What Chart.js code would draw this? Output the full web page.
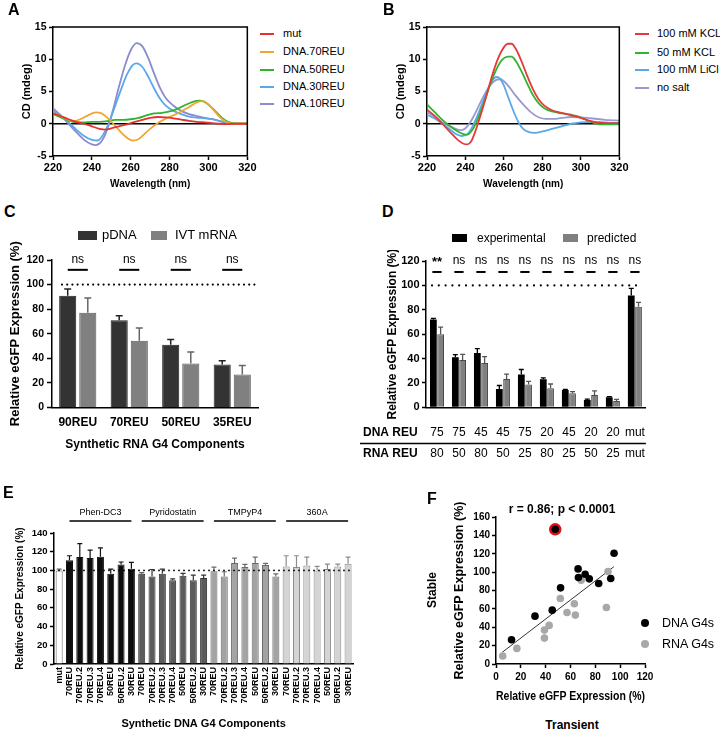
<!DOCTYPE html>
<html><head><meta charset="utf-8">
<script src="https://cdn.jsdelivr.net/npm/chart.js@4.4.1/dist/chart.umd.min.js"></script>
<style>
html,body{margin:0;padding:0;background:#fff;}
body{width:720px;height:731px;position:relative;overflow:hidden;font-family:"Liberation Sans",Arial,Helvetica,sans-serif;color:#000;}
canvas{position:absolute;}
.t{position:absolute;white-space:nowrap;}
.sw{position:absolute;}
</style></head><body>
<script>
// ================= DATA =================
// Panel A – CD spectra [wavelength nm, CD mdeg]
const aMut = [[220,1.6],[224,1.2],[228,0.7],[232,0.3],[236,0],[240,-0.4],[244,-0.8],[247,-0.9],[250,-0.7],[254,-0.4],[258,-0.1],[262,0.3],[266,0.6],[270,0.9],[274,1.05],[278,1.0],[282,0.85],[286,0.65],[290,0.45],[294,0.3],[298,0.2],[302,0.1],[306,0],[310,-0.05],[314,0],[320,0]];
const aDna70 = [[220,1.7],[224,1.2],[228,0.6],[231,0.4],[234,0.7],[238,1.3],[242,1.75],[245,1.6],[248,0.9],[251,0],[254,-1.0],[257,-1.9],[261,-2.6],[264,-2.4],[267,-1.6],[270,-0.8],[274,0.1],[278,0.8],[282,1.3],[286,1.9],[290,2.6],[294,3.3],[297,3.5],[300,3.0],[303,2.0],[306,1.0],[309,0.3],[312,0],[316,0],[320,0]];
const aDna50 = [[220,1.5],[224,1.0],[228,0.5],[232,0.2],[236,0.2],[240,0.3],[244,0.3],[248,0.4],[252,0.6],[256,0.6],[260,0.7],[264,0.9],[268,1.3],[272,1.6],[276,1.7],[280,1.9],[284,2.3],[288,2.9],[292,3.4],[295,3.6],[298,3.4],[301,2.7],[304,1.8],[307,0.9],[310,0.3],[313,0.05],[316,0],[320,0]];
const aDna30 = [[220,2.0],[224,1.2],[228,0.2],[232,-0.9],[236,-1.9],[240,-2.5],[243,-2.6],[246,-1.6],[249,0.3],[252,2.8],[255,5.3],[258,7.6],[261,9.1],[263,9.35],[266,8.8],[269,7.3],[272,5.5],[275,3.9],[278,2.8],[282,2.0],[286,1.5],[290,1.1],[294,0.95],[298,0.85],[302,0.7],[306,0.4],[310,0.1],[314,0],[320,0]];
const aDna10 = [[220,2.4],[224,1.3],[228,0.0],[232,-1.3],[236,-2.5],[240,-3.2],[242,-3.3],[245,-2.7],[248,-0.8],[251,2.3],[254,5.8],[257,9.0],[260,11.4],[263,12.5],[266,12.0],[269,10.2],[272,7.8],[275,5.6],[278,4.0],[282,2.8],[286,2.0],[290,1.5],[294,1.2],[298,0.9],[302,0.7],[306,0.4],[310,0.1],[314,0],[320,0]];
const aNames = ['mut','DNA.70REU','DNA.50REU','DNA.30REU','DNA.10REU'];

// Panel B – CD spectra under salt conditions
const bKcl100 = [[220,2.2],[224,1.2],[228,0.0],[232,-1.3],[236,-2.5],[239,-3.1],[241,-3.2],[243,-2.7],[245,-1.3],[247,0.5],[250,3.4],[253,6.6],[256,9.4],[259,11.4],[262,12.4],[264,12.4],[266,11.7],[269,9.8],[272,7.5],[275,5.4],[278,3.8],[281,2.8],[285,2.1],[290,1.7],[295,1.3],[300,0.9],[304,0.5],[308,0.2],[314,0.1],[320,0.1]];
const bKcl50 = [[220,3.0],[224,1.8],[228,0.6],[232,-0.4],[236,-1.2],[239,-1.6],[241,-1.7],[243,-1.2],[245,-0.2],[247,1.2],[250,3.6],[253,6.2],[256,8.4],[259,9.9],[262,10.4],[264,10.4],[266,9.8],[269,8.2],[272,6.3],[275,4.5],[278,3.2],[281,2.4],[285,1.9],[290,1.6],[295,1.4],[298,1.2],[302,0.7],[306,0.2],[310,-0.1],[315,-0.1],[320,-0.1]];
const bLicl100 = [[220,1.4],[224,0.8],[228,0.0],[232,-0.9],[235,-1.6],[238,-1.9],[241,-1.6],[243,-0.8],[245,0.4],[248,2.6],[251,4.9],[254,6.7],[256,7.25],[258,7.0],[260,5.9],[262,4.3],[264,2.7],[266,1.2],[268,0.0],[270,-0.8],[273,-1.3],[276,-1.4],[280,-1.2],[285,-0.8],[290,-0.4],[295,0.0],[300,0.2],[305,0.3],[310,0.25],[315,0.15],[320,0.1]];
const bNoSalt = [[220,1.8],[224,1.1],[228,0.2],[232,-0.4],[236,-0.9],[238,-1.0],[240,-0.7],[242,0.0],[244,1.0],[247,2.8],[250,4.6],[253,6.0],[256,6.8],[258,6.9],[260,6.6],[263,5.6],[266,4.4],[270,3.0],[274,1.8],[278,1.0],[282,0.75],[286,0.75],[290,0.9],[295,1.05],[300,1.0],[305,0.85],[310,0.7],[315,0.55],[320,0.5]];
const bNames = ['100 mM KCL','50 mM KCL','100 mM LiCl','no salt'];

// Panel C
const cCategories = ['90REU','70REU','50REU','35REU'];
const cPdna = [91, 71, 51, 35];
const cPdnaErr = [5.5, 3.7, 4.3, 3];
const cIvt = [77, 54.4, 35.8, 26.9];
const cIvtErr = [12.1, 10.2, 9.4, 7.3];
const cSig = ['ns','ns','ns','ns'];
const cSeries = ['pDNA','IVT mRNA'];

// Panel D
const dDnaReu = ['75','75','45','45','75','20','45','20','20','mut'];
const dRnaReu = ['80','50','80','50','25','80','25','50','25','mut'];
const dExp = [72, 41, 44.5, 15, 27, 23, 14.2, 6, 8.2, 91.8];
const dExpErr = [1, 2.2, 3.7, 2.9, 4, 1.2, 0.5, 0.7, 0.6, 5.8];
const dPred = [60, 38.8, 36.3, 23.2, 18.8, 15.6, 11.5, 10.1, 5.2, 82.5];
const dPredErr = [5.8, 4.6, 5.3, 4, 2.5, 3.5, 1.4, 3.3, 1.3, 3.6];
const dSig = ['**','ns','ns','ns','ns','ns','ns','ns','ns','ns'];
const dSeries = ['experimental','predicted'];

// Panel E
const eLigands = ['Phen-DC3','Pyridostatin','TMPyP4','360A'];
const eConstructs = ['70REU','70REU.2','70REU.3','70REU.4','50REU','50REU.2','30REU'];
const eMut = [100];
const eMutErr = [1.5];
const ePhen = [111, 114.3, 113.2, 114.6, 96.4, 106.4, 101.8];
const ePhenErr = [4.7, 14.3, 8.6, 9.4, 5, 2.6, 6.8];
const ePyr = [96.4, 93.6, 96.4, 89.6, 94.3, 89.6, 91.8];
const ePyrErr = [1.1, 7.4, 5, 1.4, 2.5, 5.4, 3.2];
const eTmp = [99, 93.6, 107.9, 103.6, 107.9, 105.7, 93.6];
const eTmpErr = [4.6, 5, 5.3, 2.8, 6.4, 1.8, 2.8];
const e360 = [104.3, 103.6, 105.4, 100, 101.4, 104.3, 107.1];
const e360Err = [11.4, 12.1, 8.9, 4.3, 5.4, 2.5, 7.2];

// Panel F
const fDnaX = [12.5, 31.4, 45.3, 52.0, 66.1, 66.4, 71.8, 75.1, 82.7, 92.4, 95.1];
const fDnaY = [26.4, 52.1, 58.6, 82.9, 103.5, 94.1, 97.7, 92.7, 87.6, 93.0, 120.5];
const fRnaX = [5.4, 16.8, 39.0, 39.0, 42.8, 51.8, 57.2, 63.1, 63.9, 68.6, 88.9, 90.2];
const fRnaY = [8.7, 17.0, 28.2, 36.9, 42.0, 71.3, 56.1, 65.5, 53.2, 91.2, 61.5, 100.6];
const fOutlier = [47.7, 146.6];
const fFit = [[5, 12.7], [95, 106]];
const fStats = 'r = 0.86; p < 0.0001';
const fSeries = ['DNA G4s','RNA G4s'];

// ================= RENDER =================
const FONT = "'Liberation Sans', Arial, Helvetica, sans-serif";
Chart.defaults.font.family = FONT;
Chart.defaults.color = '#000';
Chart.defaults.animation = false;

function makeChart(box, plot, padL, config) {
  const cv = document.createElement('canvas');
  cv.width = box.w; cv.height = box.h;
  cv.style.left = box.l + 'px'; cv.style.top = box.t + 'px';
  cv.style.width = box.w + 'px'; cv.style.height = box.h + 'px';
  document.body.appendChild(cv);
  const o = config.options;
  o.responsive = false; o.maintainAspectRatio = false; o.animation = false; o.devicePixelRatio = 1;
  o.layout = {padding: {left: padL, top: plot.t - box.t, right: box.l + box.w - plot.r, bottom: 0}};
  const yW = plot.l - box.l - padL, xH = box.t + box.h - plot.b;
  o.scales.x.afterFit = s => { s.height = xH; };
  o.scales.y.afterFit = s => { s.width = yW; };
  o.plugins = Object.assign({legend: {display: false}, tooltip: {enabled: false}}, o.plugins || {});
  return new Chart(cv.getContext('2d'), config);
}
function valAxis(min, max, step, tickSize, pad, title, titleSize, tl) {
  return {
    type: 'linear', min, max,
    ticks: {stepSize: step, font: {size: tickSize, weight: 'bold'}, padding: pad, color: '#000'},
    grid: {display: true, drawOnChartArea: false, drawTicks: true, tickLength: tl == null ? 4 : tl, tickWidth: 1.5, tickColor: '#000', color: '#000'},
    border: {display: true, color: '#000', width: 1.5},
    title: {display: !!title, text: title || '', font: {size: titleSize, weight: 'bold'}, padding: 0, color: '#000'}
  };
}
function catAxis(tickSize, pad, title, titleSize, extra) {
  const ax = {
    type: 'category',
    ticks: {font: {size: tickSize, weight: 'bold'}, padding: pad, color: '#000', autoSkip: false, maxRotation: 0, minRotation: 0},
    grid: {display: false, drawTicks: false, tickLength: 0},
    border: {display: true, color: '#000', width: 1.5},
    title: {display: !!title, text: title || '', font: {size: titleSize, weight: 'bold'}, padding: 0, color: '#000'}
  };
  return Object.assign(ax, extra || {});
}
const errPlugin = {
  id: 'errbars',
  afterDatasetsDraw(chart) {
    const ctx = chart.ctx, ys = chart.scales.y;
    chart.data.datasets.forEach((ds, i) => {
      if (!ds.errs) return;
      const meta = chart.getDatasetMeta(i);
      meta.data.forEach((bar, j) => {
        const v = ds.data[j], e = ds.errs[j];
        const top = ys.getPixelForValue(v + e);
        const col = Array.isArray(ds.errColor) ? ds.errColor[j] : ds.errColor;
        ctx.save();
        ctx.strokeStyle = col; ctx.lineWidth = ds.errWidth || 1.2;
        ctx.beginPath();
        ctx.moveTo(bar.x, bar.y); ctx.lineTo(bar.x, top);
        ctx.moveTo(bar.x - ds.capW, top); ctx.lineTo(bar.x + ds.capW, top);
        ctx.stroke(); ctx.restore();
      });
    });
  }
};
function dotted(ctx, x0, x1, y, w, gap) {
  ctx.save(); ctx.strokeStyle = '#000'; ctx.lineWidth = w; ctx.lineCap = 'round'; ctx.setLineDash([0, gap]);
  ctx.beginPath(); ctx.moveTo(x0, y); ctx.lineTo(x1, y); ctx.stroke(); ctx.restore();
}
const framePlugin = {
  id: 'frame',
  beforeDatasetsDraw(chart) {
    const {ctx, chartArea: a, scales: {y}} = chart;
    const y0 = y.getPixelForValue(0);
    ctx.save(); ctx.strokeStyle = '#000'; ctx.lineWidth = 1.5;
    ctx.beginPath(); ctx.moveTo(a.left, y0); ctx.lineTo(a.right, y0); ctx.stroke(); ctx.restore();
  },
  afterDraw(chart) {
    const {ctx, chartArea: a} = chart;
    ctx.save(); ctx.strokeStyle = '#000'; ctx.lineWidth = 1.5;
    ctx.beginPath(); ctx.moveTo(a.left, a.top); ctx.lineTo(a.right, a.top); ctx.lineTo(a.right, a.bottom); ctx.stroke(); ctx.restore();
  }
};

// HTML helpers
function txt(x, yc, s, size, o) {
  o = o || {};
  const d = document.createElement('div');
  d.className = 't'; d.textContent = s;
  d.style.fontSize = size + 'px'; d.style.lineHeight = (size * 1.2) + 'px';
  d.style.left = x + 'px'; d.style.top = (yc - size * 0.6) + 'px';
  if (o.bold) d.style.fontWeight = 'bold';
  if (o.center) d.style.transform = 'translateX(-50%)';
  if (o.rot) { d.style.top = yc + 'px'; d.style.transform = 'translate(-50%,-50%) rotate(-90deg)'; }
  document.body.appendChild(d);
}
function sw(x, y, w, h, col, round) {
  const d = document.createElement('div');
  d.className = 'sw';
  d.style.cssText = `left:${x}px;top:${y}px;width:${w}px;height:${h}px;background:${col};` + (round ? 'border-radius:50%;' : '');
  document.body.appendChild(d);
}
const lineDs = (pts, color, label) => ({label, data: pts.map(p => ({x: p[0], y: p[1]})), borderColor: color, backgroundColor: color, borderWidth: 1.8, pointRadius: 0, cubicInterpolationMode: 'monotone', fill: false});

// ---------- Panel A ----------
const aColors = ['#e8312f', '#f2a533', '#2db52d', '#5aa8e8', '#8b8bd0'];
makeChart({l: 0, t: 15, w: 258, h: 175}, {l: 53, t: 27, r: 248, b: 156}, 20, {
  type: 'line',
  data: {datasets: [aMut, aDna70, aDna50, aDna30, aDna10].map((d, i) => lineDs(d, aColors[i], aNames[i]))},
  options: {scales: {
    x: valAxis(220, 320, 20, 11, 1.5, 'Wavelength (nm)', 10),
    y: valAxis(-5, 15, 5, 10.5, 2.5, 'CD (mdeg)', 11)
  }},
  plugins: [framePlugin]
});
aNames.forEach((n, i) => { const yc = [34, 52, 70, 87, 104][i]; sw(260, yc - 1, 14, 2, aColors[i]); txt(283, yc, n, 11); });

// ---------- Panel B ----------
const bColors = ['#e63a3a', '#2fb52f', '#5aa8e8', '#9a9ad2'];
makeChart({l: 360, t: 15, w: 270, h: 175}, {l: 427, t: 27, r: 620, b: 156}, 34, {
  type: 'line',
  data: {datasets: [bKcl100, bKcl50, bLicl100, bNoSalt].map((d, i) => lineDs(d, bColors[i], bNames[i]))},
  options: {scales: {
    x: valAxis(220, 320, 20, 11, 1.5, 'Wavelength (nm)', 10),
    y: valAxis(-5, 15, 5, 10.5, 2.5, 'CD (mdeg)', 11)
  }},
  plugins: [framePlugin]
});
bNames.forEach((n, i) => { const yc = [34, 53, 70, 88][i]; sw(635, yc - 1, 14, 2, bColors[i]); txt(657, yc, n, 11); });

// ---------- Panel C ----------
const cAnno = {
  id: 'cAnno',
  afterDatasetsDraw(chart) {
    const {ctx, chartArea: a, scales: {y}} = chart;
    dotted(ctx, a.left + 10, a.right - 3, y.getPixelForValue(100), 2.2, 5.2);
    const m0 = chart.getDatasetMeta(0), m1 = chart.getDatasetMeta(1);
    ctx.save(); ctx.strokeStyle = '#000'; ctx.lineWidth = 2; ctx.fillStyle = '#000';
    ctx.font = `12px ${FONT}`; ctx.textAlign = 'center'; ctx.textBaseline = 'middle';
    cSig.forEach((s, i) => {
      const x0 = m0.data[i].x, x1 = m1.data[i].x, yl = y.getPixelForValue(112);
      ctx.beginPath(); ctx.moveTo(x0, yl); ctx.lineTo(x1, yl); ctx.stroke();
      ctx.fillText(s, (x0 + x1) / 2, y.getPixelForValue(120));
    });
    ctx.restore();
  }
};
makeChart({l: 0, t: 226, w: 266, h: 226}, {l: 52, t: 260, r: 258, b: 407.5}, 8, {
  type: 'bar',
  data: {labels: cCategories, datasets: [
    {label: cSeries[0], data: cPdna, errs: cPdnaErr, backgroundColor: '#333333', borderColor: '#222', borderWidth: 1, errColor: '#222', capW: 3.5, errWidth: 1.5, categoryPercentage: 0.78, barPercentage: 0.85},
    {label: cSeries[1], data: cIvt, errs: cIvtErr, backgroundColor: '#808080', borderColor: '#5a5a5a', borderWidth: 1, errColor: '#666', capW: 3.5, errWidth: 1.5, categoryPercentage: 0.78, barPercentage: 0.85}
  ]},
  options: {scales: {
    x: catAxis(12, 8, 'Synthetic RNA G4 Components', 12),
    y: valAxis(0, 120, 20, 10.5, 3, 'Relative eGFP Expression (%)', 13, 5)
  }},
  plugins: [errPlugin, cAnno]
});
sw(78, 231, 19, 9, '#333333'); txt(102, 235, cSeries[0], 13);
sw(151, 231, 16, 9, '#808080'); txt(175, 235, cSeries[1], 13);

// ---------- Panel D ----------
const dAnno = {
  id: 'dAnno',
  afterDatasetsDraw(chart) {
    const {ctx, chartArea: a, scales: {y}} = chart;
    dotted(ctx, a.left + 6, a.right - 5, y.getPixelForValue(100), 2.2, 6.8);
    const m0 = chart.getDatasetMeta(0), m1 = chart.getDatasetMeta(1);
    ctx.save(); ctx.strokeStyle = '#000'; ctx.lineWidth = 2; ctx.fillStyle = '#000';
    ctx.textAlign = 'center'; ctx.textBaseline = 'middle';
    dSig.forEach((s, i) => {
      const x0 = m0.data[i].x, x1 = m1.data[i].x, yl = y.getPixelForValue(111);
      ctx.beginPath(); ctx.moveTo(x0 - 1, yl); ctx.lineTo(x1 + 1, yl); ctx.stroke();
      ctx.font = s === 'ns' ? `12px ${FONT}` : `bold 13px ${FONT}`;
      ctx.fillText(s, (x0 + x1) / 2, y.getPixelForValue(s === 'ns' ? 120 : 119));
    });
    // table headers and separator
    ctx.font = `bold 12px ${FONT}`; ctx.textAlign = 'left';
    ctx.fillText('DNA REU', 3, 433 - 250);
    ctx.fillText('RNA REU', 3, 454 - 250);
    ctx.lineWidth = 1.5;
    ctx.beginPath(); ctx.moveTo(0, 443.5 - 250); ctx.lineTo(a.right, 443.5 - 250); ctx.stroke();
    ctx.restore();
  }
};
makeChart({l: 360, t: 250, w: 300, h: 220}, {l: 426, t: 261, r: 658, b: 407.3}, 25, {
  type: 'bar',
  data: {labels: dDnaReu.map((d, i) => [d, dRnaReu[i]]), datasets: [
    {label: dSeries[0], data: dExp, errs: dExpErr, backgroundColor: '#000', borderWidth: 0, errColor: '#000', capW: 2.5, errWidth: 1.3, categoryPercentage: 0.66, barPercentage: 0.93},
    {label: dSeries[1], data: dPred, errs: dPredErr, backgroundColor: '#808080', borderColor: '#4a4a4a', borderWidth: 1, errColor: '#555', capW: 2.5, errWidth: 1.3, categoryPercentage: 0.66, barPercentage: 0.93}
  ]},
  options: {scales: {
    x: catAxis(12, 15, null, 12, {ticks: {font: {size: 12, lineHeight: 1.75}, padding: 15, color: '#000', autoSkip: false, maxRotation: 0, minRotation: 0}}),
    y: valAxis(0, 120, 20, 11, 2.5, 'Relative eGFP Expression (%)', 12, 4)
  }},
  plugins: [errPlugin, dAnno]
});
sw(452, 234, 15, 8, '#000'); txt(477, 238, dSeries[0], 12);
sw(563, 234, 15, 8, '#808080'); txt(587, 238, dSeries[1], 12);

// ---------- Panel E ----------
const eFill = ['#ffffff', '#0d0d0d', '#5b5b5b', '#a3a3a3', '#d4d4d4'];
const eEdge = ['#666666', '#111111', '#333333', '#6a6a6a', '#8c8c8c'];
const eLabels = ['mut'].concat(...eLigands.map(() => eConstructs));
const eValues = [].concat(eMut, ePhen, ePyr, eTmp, e360);
const eErrors = [].concat(eMutErr, ePhenErr, ePyrErr, eTmpErr, e360Err);
const eGroupIdx = eLabels.map((_, i) => i === 0 ? 0 : 1 + Math.floor((i - 1) / eConstructs.length));
const eAnno = {
  id: 'eAnno',
  afterDatasetsDraw(chart) {
    const {ctx, chartArea: a, scales: {x, y}} = chart;
    dotted(ctx, a.left, a.right, y.getPixelForValue(100), 1.8, 5);
    ctx.save(); ctx.strokeStyle = '#000'; ctx.lineWidth = 1.5; ctx.fillStyle = '#000';
    ctx.font = `9px ${FONT}`; ctx.textAlign = 'center'; ctx.textBaseline = 'middle';
    eLigands.forEach((g, k) => {
      const i0 = 1 + k * eConstructs.length, i1 = i0 + eConstructs.length - 1;
      const x0 = x.getPixelForValue(i0), x1 = x.getPixelForValue(i1);
      ctx.beginPath(); ctx.moveTo(x0, a.top - 12); ctx.lineTo(x1, a.top - 12); ctx.stroke();
      ctx.fillText(g, (x0 + x1) / 2, a.top - 20.5);
    });
    ctx.restore();
  }
};
makeChart({l: 0, t: 500, w: 362, h: 231}, {l: 54, t: 533, r: 355, b: 664}, 14, {
  type: 'bar',
  data: {labels: eLabels, datasets: [
    {data: eValues, errs: eErrors, backgroundColor: eGroupIdx.map(g => eFill[g]), borderColor: eGroupIdx.map(g => eEdge[g]), borderWidth: 1,
     errColor: eGroupIdx.map(g => eEdge[g]), capW: 2.5, errWidth: 1.2, categoryPercentage: 1, barPercentage: 0.68}
  ]},
  options: {scales: {
    x: catAxis(9, 3, 'Synthetic DNA G4 Components', 11, {ticks: {font: {size: 9, weight: 'bold'}, padding: 3, color: '#000', autoSkip: false, maxRotation: 90, minRotation: 90}}),
    y: valAxis(0, 140, 20, 9.5, 2.5, 'Relative eGFP Expression (%)', 10, 4)
  }},
  plugins: [errPlugin, eAnno]
});

// ---------- Panel F ----------
makeChart({l: 420, t: 490, w: 300, h: 214}, {l: 496, t: 517, r: 645, b: 664}, 32, {
  type: 'scatter',
  data: {datasets: [
    {label: 'outlier', data: [{x: fOutlier[0], y: fOutlier[1]}], backgroundColor: '#000', borderColor: '#e01010', borderWidth: 2.5, pointRadius: 5},
    {label: fSeries[0], data: fDnaX.map((v, i) => ({x: v, y: fDnaY[i]})), backgroundColor: '#000', borderColor: '#000', borderWidth: 0, pointRadius: 3.8},
    {label: fSeries[1], data: fRnaX.map((v, i) => ({x: v, y: fRnaY[i]})), backgroundColor: '#a8a8a8', borderColor: '#a8a8a8', borderWidth: 0, pointRadius: 3.8},
    {type: 'line', label: 'fit', data: fFit.map(p => ({x: p[0], y: p[1]})), borderColor: '#333', borderWidth: 1, pointRadius: 0, fill: false}
  ]},
  options: {clip: false, scales: {
    x: valAxis(0, 120, 20, 10, 3.5, 'Relative eGFP Expression (%)', 12),
    y: valAxis(0, 160, 20, 10, 2, 'Relative eGFP Expression (%)', 12.5)
  }}
});
txt(562, 509, fStats, 12, {bold: true, center: true});
txt(572, 725, 'Transient', 12, {bold: true, center: true});
txt(432, 590, 'Stable', 12, {bold: true, rot: true});
sw(641, 619, 8, 8, '#000', true); txt(662, 623, fSeries[0], 12.5);
sw(641, 640, 8, 8, '#a8a8a8', true); txt(662, 644, fSeries[1], 12.5);

// ---------- Panel letters ----------
[['A', 8, 10], ['B', 383, 10], ['C', 4, 212], ['D', 382, 212], ['E', 3, 493], ['F', 427, 499]].forEach(p => txt(p[1], p[2], p[0], 16, {bold: true}));
</script>
</body></html>
